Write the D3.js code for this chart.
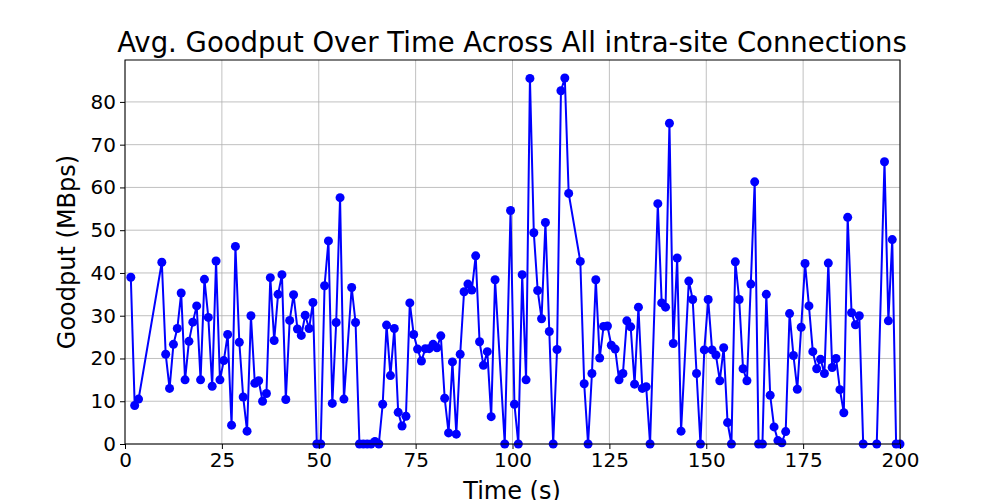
<!DOCTYPE html><html><head><meta charset="utf-8">
<script src="https://cdn.jsdelivr.net/npm/d3@7"></script>
<style>body{margin:0;background:#fff}text{font-family:"DejaVu Sans",sans-serif}</style></head><body>
<svg id="c" width="1000" height="500"></svg>
<script>
const times=[1.5,2.5,3.5,9.5,10.5,11.5,12.5,13.5,14.5,15.5,16.5,17.5,18.5,19.5,20.5,21.5,22.5,23.5,24.5,25.5,26.5,27.5,28.5,29.5,30.5,31.5,32.5,33.5,34.5,35.5,36.5,37.5,38.5,39.5,40.5,41.5,42.5,43.5,44.5,45.5,46.5,47.5,48.5,49.5,50.5,51.5,52.5,53.5,54.5,55.5,56.5,58.5,59.5,60.5,61.5,62.5,63.5,64.5,65.5,66.5,67.5,68.5,69.5,70.5,71.5,72.5,73.5,74.5,75.5,76.5,77.5,78.5,79.5,80.5,81.5,82.5,83.5,84.5,85.5,86.5,87.5,88.5,89.5,90.5,91.5,92.5,93.5,94.5,95.5,98,99.5,100.5,101.5,102.5,103.5,104.5,105.5,106.5,107.5,108.5,109.5,110.5,111.5,112.5,113.5,114.5,117.5,118.5,119.5,120.5,121.5,122.5,123.5,124.5,125.5,126.5,127.5,128.5,129.5,130.5,131.5,132.5,133.5,134.5,135.5,137.5,138.5,139.5,140.5,141.5,142.5,143.5,145.5,146.5,147.5,148.5,149.5,150.5,151.5,152.5,153.5,154.5,155.5,156.5,157.5,158.5,159.5,160.5,161.5,162.5,163.5,164.5,165.5,166.5,167.5,168.5,169.5,170.5,171.5,172.5,173.5,174.5,175.5,176.5,177.5,178.5,179.5,180.5,181.5,182.5,183.5,184.5,185.5,186.5,187.5,188.5,189.5,190.5,194,196,197,198,199,200];
const goodput=[39,9,10.5,42.5,21,13,23.3,27,35.3,15,24,28.5,32.3,15,38.5,29.6,13.5,42.8,15,19.5,25.6,4.4,46.2,23.8,11,3,30,14.2,14.8,10,11.8,38.9,24.2,35,39.6,10.4,28.9,34.9,26.9,25.4,30.1,27,33.1,0,0,37,47.5,9.5,28.4,57.6,10.5,36.6,28.4,0,0,0,0,0.6,0,9.3,27.8,16,27,7.4,4.2,6.5,33,25.6,22.2,19.4,22.3,22.3,23.3,22.5,25.3,10.7,2.6,19.2,2.3,21,35.6,37.4,36,44,23.9,18.4,21.6,6.4,38.4,0,54.6,9.3,0,39.6,15,85.5,49.4,35.9,29.3,51.8,26.3,0,22.1,82.6,85.6,58.6,42.7,14.1,0,16.5,38.4,20.1,27.5,27.6,23.1,22.2,15,16.5,28.8,27.4,14,32,13,13.4,0,56.2,33,32,75,23.5,43.5,3,38.1,33.8,16.5,0,22,33.8,22,20.8,14.8,22.5,5,0,42.6,33.8,17.6,14.8,37.4,61.3,0,0,35,11.4,4,0.8,0.3,2.9,30.5,20.7,12.8,27.3,42.2,32.3,21.6,17.6,19.8,16.5,42.3,17.9,20,12.7,7.3,53,30.7,27.9,30,0,0,66,28.8,47.8,0,0];
const xTicks=[0,25,50,75,100,125,150,175,200];
const yTicks=[0,10,20,30,40,50,60,70,80];
const data=times.map((t,i)=>({t,v:goodput[i]}));
const svg=d3.select("#c");
const L=125,R=900,T=60,B=444;
const x=d3.scaleLinear().domain([0,200]).range([L,R]);
const y=d3.scaleLinear().domain([0,89.8]).range([B,T]);
const g=svg.append("g");
g.selectAll(".gx").data(xTicks).join("line").attr("x1",d=>x(d)).attr("x2",d=>x(d)).attr("y1",T).attr("y2",B).attr("stroke","#b0b0b0").attr("stroke-width",0.8);
g.selectAll(".gy").data(yTicks).join("line").attr("x1",L).attr("x2",R).attr("y1",d=>y(d)).attr("y2",d=>y(d)).attr("stroke","#b0b0b0").attr("stroke-width",0.8);
svg.append("clipPath").attr("id","cp").append("rect").attr("x",L-6).attr("y",T).attr("width",R-L+12).attr("height",B-T+6);
const pg=svg.append("g").attr("clip-path","url(#cp)");
pg.append("path").datum(data).attr("d",d3.line().x(d=>x(d.t)).y(d=>y(d.v))).attr("fill","none").attr("stroke","blue").attr("stroke-width",2);
pg.selectAll("circle").data(data).join("circle").attr("cx",d=>x(d.t)).attr("cy",d=>y(d.v)).attr("r",4.5).attr("fill","blue");
svg.append("rect").attr("x",L).attr("y",T).attr("width",R-L).attr("height",B-T).attr("fill","none").attr("stroke","#000").attr("stroke-width",1);
const ax=svg.append("g").attr("transform",`translate(0,${B})`).call(d3.axisBottom(x).tickValues(xTicks).tickSize(5).tickPadding(4));
const ay=svg.append("g").attr("transform",`translate(${L},0)`).call(d3.axisLeft(y).tickValues(yTicks).tickSize(5).tickPadding(4));
[ax,ay].forEach(a=>{a.select(".domain").remove();a.selectAll("text").attr("font-size",20).attr("font-family","DejaVu Sans").attr("fill","#000");a.selectAll("line").attr("stroke","#000")});
svg.append("text").attr("x",512).attr("y",52).attr("text-anchor","middle").attr("font-size",27.5).text("Avg. Goodput Over Time Across All intra-site Connections");
svg.append("text").attr("x",512).attr("y",499).attr("text-anchor","middle").attr("font-size",24).text("Time (s)");
svg.append("text").attr("transform","translate(75,252) rotate(-90)").attr("text-anchor","middle").attr("font-size",24).text("Goodput (MBps)");
</script></body></html>
